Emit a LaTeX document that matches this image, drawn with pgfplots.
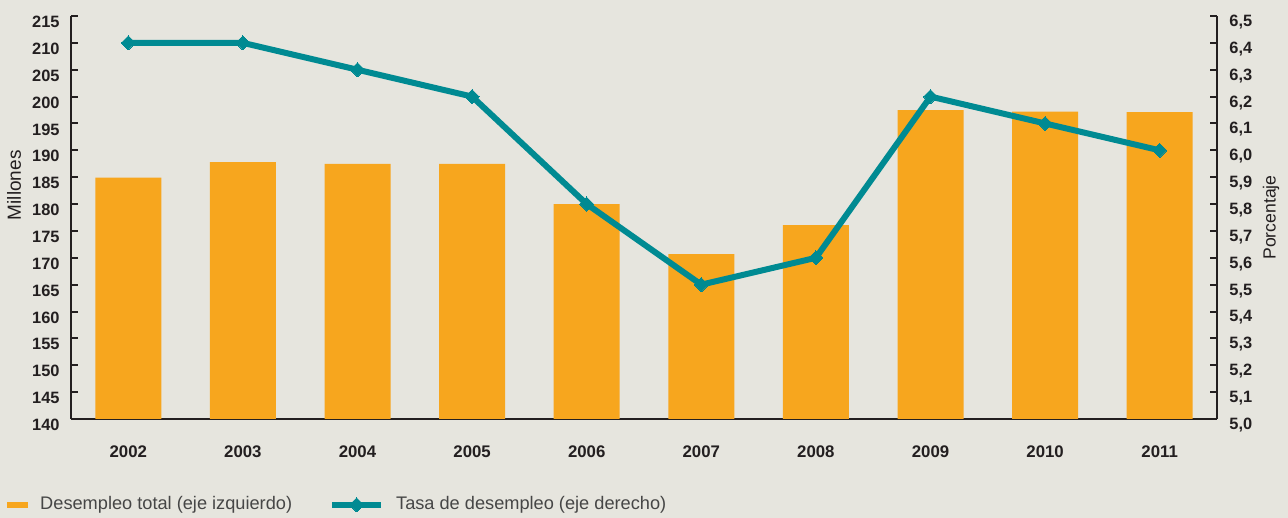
\documentclass[border=0pt]{standalone}
\usepackage{fontspec}
\setmainfont{Liberation Sans}
\usepackage{pgfplots}
\pgfplotsset{compat=1.18}
\definecolor{bg}{RGB}{230,229,222}
\definecolor{barc}{RGB}{247,166,30}
\definecolor{tealc}{RGB}{0,138,146}
\definecolor{axc}{RGB}{35,31,32}
\definecolor{legtxt}{RGB}{70,70,70}
\begin{document}
\begin{tikzpicture}
\path[fill=bg, use as bounding box] (-35.5pt,-49.5pt) rectangle (608.5pt,209.5pt);
\begin{axis}[
  at={(0pt,0pt)}, anchor=south west,
  scale only axis, width=573pt, height=201.5pt,
  xmin=-0.5, xmax=9.5, ymin=140, ymax=215,
  axis x line=bottom, axis y line=left,
  axis line style={-, line width=1pt, color=axc},
  xtick={0,...,9},
  xticklabels={2002,2003,2004,2005,2006,2007,2008,2009,2010,2011},
  ytick={140,145,...,215},
  tick align=inside,
  major tick length=3.5pt,
  tick style={line width=1pt, color=axc},
  xtick style={draw=none},
  /pgf/number format/assume math mode=true,
  ticklabel style={font=\fontsize{8.2}{9}\selectfont\bfseries, text=axc},
  xticklabel style={anchor=north, inner sep=0pt, yshift=-13pt, font=\fontsize{8.4}{9}\selectfont\bfseries},
  yticklabel style={anchor=east, inner sep=0pt, xshift=-5.5pt, yshift=-3pt},
  ylabel={Millones},
  ylabel style={at={(axis description cs:-0.0497,0.58)}, anchor=center, rotate=0, font=\fontsize{9.5}{10}\selectfont, text=axc},
]
\addplot[ybar, bar width=33pt, bar shift=0pt, fill=barc, draw=none] coordinates {
(0,184.9) (1,187.8) (2,187.5) (3,187.5) (4,180.0) (5,170.7) (6,176.1) (7,197.5) (8,197.2) (9,197.1)};
\end{axis}
\begin{axis}[
  at={(0pt,0pt)}, anchor=south west,
  scale only axis, width=573pt, height=201.5pt,
  xmin=-0.5, xmax=9.5, ymin=5.0, ymax=6.5,
  axis x line=none, axis y line=right,
  axis line style={-, line width=1pt, color=axc},
  ytick={5.0,5.1,...,6.5},
  tick align=inside,
  major tick length=3.5pt,
  tick style={line width=1pt, color=axc},
  /pgf/number format/assume math mode=true,
  /pgf/number format/.cd, use comma, fixed, fixed zerofill, precision=1, /pgfplots/.cd,
  yticklabel style={font=\fontsize{8.2}{9}\selectfont\bfseries, text=axc, anchor=west, inner sep=0pt, xshift=6pt, yshift=-3pt},
  ylabel={Porcentaje},
  ylabel style={at={(axis description cs:1.0471,0.50)}, anchor=center, rotate=0, font=\fontsize{8.8}{10}\selectfont, text=axc},
  clip=false,
  legend columns=2,
  legend style={at={(axis description cs:-0.0558,-0.213)}, anchor=west, draw=none, fill=none, inner sep=0pt,
    font=\fontsize{9.1}{10}\selectfont, text=legtxt,
    nodes={inner sep=0pt},
    /tikz/every odd column/.append style={column sep=6pt},
    /tikz/every even column/.append style={column sep=18.5pt}},
]
\addlegendimage{legend image code/.code={\fill[barc] (0pt,-1.25pt) rectangle (10pt,1.25pt);}}
\addlegendentry{Desempleo total (eje izquierdo)}
\addplot[tealc, line width=3pt, mark=square*, mark size=2.5pt, mark options={rotate=45, solid, line width=0pt},
  legend image code/.code={\draw[mark repeat=2, mark phase=2] plot coordinates {(0pt,0pt) (12.25pt,0pt) (24.5pt,0pt)};}]
  coordinates {(0,6.4) (1,6.4) (2,6.3) (3,6.2) (4,5.8) (5,5.5) (6,5.6) (7,6.2) (8,6.1) (9,6.0)};
\addlegendentry{Tasa de desempleo (eje derecho)}
\end{axis}
\end{tikzpicture}
\end{document}
